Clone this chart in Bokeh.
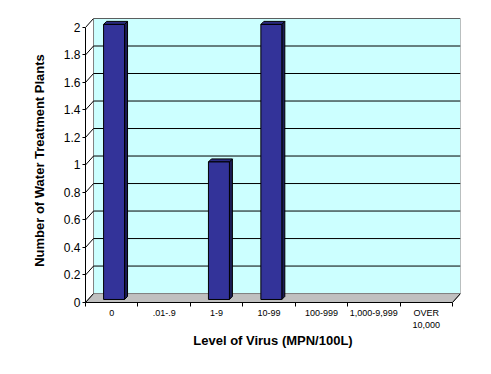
from bokeh.plotting import figure
from bokeh.models import Range1d, FixedTicker
from bokeh.embed import file_html
from bokeh.resources import INLINE

# ---- data ----
CATEGORIES = ["0", ".01-.9", "1-9", "10-99", "100-999", "1,000-9,999", "OVER\n10,000"]
PLANTS = [2, 0, 1, 2, 0, 0, 0]
Y_TICKS = [0, 0.2, 0.4, 0.6, 0.8, 1.0, 1.2, 1.4, 1.6, 1.8, 2.0]
Y_TICK_LABELS = ["0", "0.2", "0.4", "0.6", "0.8", "1", "1.2", "1.4", "1.6", "1.8", "2"]
Y_MAX = 2
X_TITLE = "Level of Virus (MPN/100L)"
Y_TITLE = "Number of Water Treatment Plants"

# ---- style: pseudo-3D depth (data units) ----
DX, DY = 0.153, 0.065          # depth of the chart box
BAR_W = 0.40                    # bar width as share of a category
BAR_OX, BAR_OY = 0.045, 0.022   # bar front face offset into the box
BAR_DX, BAR_DY = 0.057, 0.022   # bar depth

FONT = "Liberation Sans"
n = len(CATEGORIES)

p = figure(width=483, height=366,
           x_range=Range1d(0, n + DX), y_range=Range1d(0, Y_MAX + DY),
           output_backend="svg", toolbar_location=None,
           min_border_left=85, min_border_right=23,
           min_border_top=18, min_border_bottom=64)
p.outline_line_color = None
p.xgrid.grid_line_color = None
p.ygrid.grid_line_color = None
p.background_fill_color = "white"
p.border_fill_color = "white"

# back wall
p.quad(left=[DX], right=[n + DX], bottom=[DY], top=[Y_MAX + DY],
       fill_color="#CCFFFF", line_color="#808080", line_width=1)

# gridlines on back wall
grid_t = [t for t in Y_TICKS if t > 0]
p.segment(x0=[DX] * len(grid_t), y0=[t + DY for t in grid_t],
          x1=[n + DX] * len(grid_t), y1=[t + DY for t in grid_t],
          line_color="black", line_width=1)

# floor
p.patch([0, n, n + DX, DX], [0, 0, DY, DY],
        fill_color="#C0C0C0", line_color="#808080", line_width=1)
p.segment(x0=[n], y0=[0], x1=[n + DX], y1=[DY], line_color="black", line_width=1)

# left side wall lines
p.segment(x0=[0] * len(Y_TICKS), y0=Y_TICKS,
          x1=[DX] * len(Y_TICKS), y1=[t + DY for t in Y_TICKS],
          line_color="black", line_width=1)

# bars
fl, fr, fb, ft = [], [], [], []
sxs, sys_, txs, tys = [], [], [], []
for i, v in enumerate(PLANTS):
    if v <= 0:
        continue
    l = i + 0.5 - BAR_W / 2 + BAR_OX
    r = l + BAR_W
    b = BAR_OY
    t = v + BAR_OY
    fl.append(l); fr.append(r); fb.append(b); ft.append(t)
    sxs.append([r, r + BAR_DX, r + BAR_DX, r])
    sys_.append([b, b + BAR_DY, t + BAR_DY, t])
    txs.append([l, l + BAR_DX, r + BAR_DX, r])
    tys.append([t, t + BAR_DY, t + BAR_DY, t])

p.patches(sxs, sys_, fill_color="#1C1C55", line_color="black", line_width=1)
p.patches(txs, tys, fill_color="#2A2A80", line_color="black", line_width=1)
p.quad(left=fl, right=fr, bottom=fb, top=ft,
       fill_color="#333399", line_color="black", line_width=1)

# x axis
xa = p.xaxis[0]
xa.ticker = FixedTicker(ticks=[i + 0.5 for i in range(n)], minor_ticks=list(range(n + 1)))
xa.major_label_overrides = {i + 0.5: c for i, c in enumerate(CATEGORIES)}
xa.bounds = (0, n)
xa.major_tick_out = 0
xa.major_tick_in = 0
xa.minor_tick_out = 4
xa.minor_tick_in = 0
xa.major_label_standoff = 1
xa.major_label_text_font = FONT
xa.major_label_text_font_size = "9px"
xa.major_label_text_color = "black"
xa.axis_label = X_TITLE
xa.axis_label_text_font = FONT
xa.axis_label_text_font_size = "13px"
xa.axis_label_text_font_style = "bold"
xa.axis_label_text_color = "black"
xa.axis_label_standoff = 0
xa.axis_line_color = "black"

# y axis
ya = p.yaxis[0]
ya.ticker = FixedTicker(ticks=Y_TICKS, minor_ticks=[])
ya.major_label_overrides = dict(zip(Y_TICKS, Y_TICK_LABELS))
ya.bounds = (0, Y_MAX)
ya.major_tick_out = 3
ya.major_tick_in = 0
ya.major_label_standoff = 2
ya.major_label_text_font = FONT
ya.major_label_text_font_size = "12px"
ya.major_label_text_color = "black"
ya.axis_label = Y_TITLE
ya.axis_label_text_font = FONT
ya.axis_label_text_font_size = "13px"
ya.axis_label_text_font_style = "bold"
ya.axis_label_text_color = "black"
ya.axis_label_standoff = 14
ya.axis_line_color = "black"

open("out.html", "w").write(file_html(p, INLINE))
